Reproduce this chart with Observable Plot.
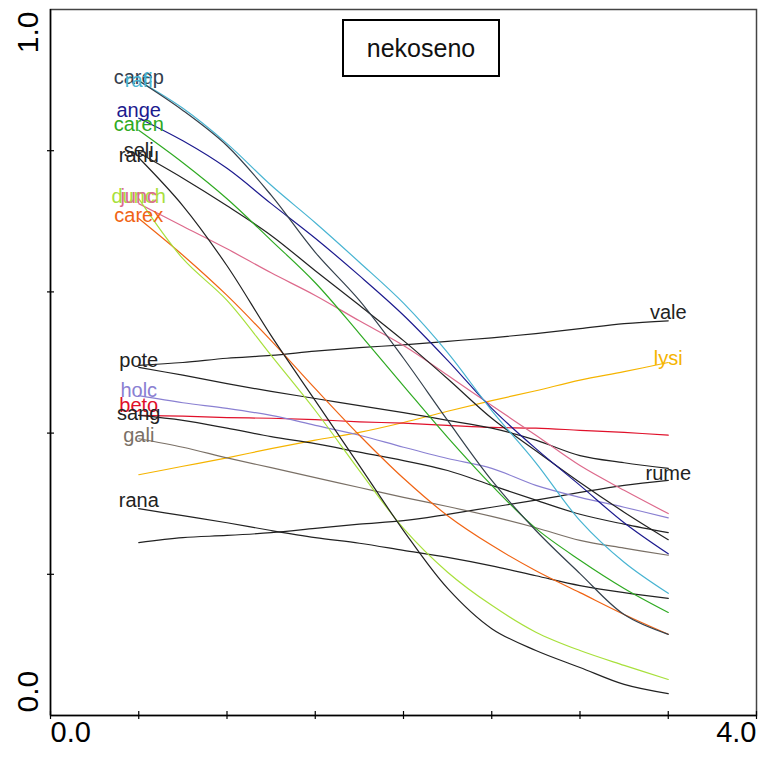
<!DOCTYPE html>
<html><head><meta charset="utf-8">
<script src="https://cdn.jsdelivr.net/npm/d3@7"></script>
<script src="https://cdn.jsdelivr.net/npm/@observablehq/plot@0.6"></script>
<style>
html,body{margin:0;padding:0;background:#fff;}
#wrap{position:relative;width:760px;height:758px;}
#title{position:absolute;left:342px;top:19px;width:154px;height:54px;border:2px solid #000;display:flex;align-items:center;justify-content:center;font:25px "Liberation Sans",Arial,sans-serif;color:#111;}
</style></head><body>
<div id="wrap"><div id="title">nekoseno</div></div>
<script>
// x positions of the response curves
const xs = [0.5, 0.75, 1.0, 1.25, 1.5, 1.75, 2.0, 2.25, 2.5, 2.75, 3.0, 3.25, 3.5];
// series values
const carep = [0.899,0.857,0.807,0.737,0.656,0.588,0.506,0.418,0.333,0.262,0.201,0.143,0.115];
const rafi  = [0.899,0.860,0.810,0.751,0.698,0.642,0.584,0.514,0.432,0.358,0.276,0.217,0.173];
const ange  = [0.846,0.814,0.775,0.725,0.676,0.623,0.567,0.503,0.435,0.378,0.326,0.273,0.229];
const caren = [0.829,0.783,0.732,0.673,0.613,0.541,0.467,0.394,0.326,0.265,0.220,0.180,0.146];
const seli  = [0.797,0.761,0.722,0.680,0.630,0.581,0.531,0.477,0.421,0.375,0.330,0.288,0.249];
const ranu  = [0.790,0.722,0.637,0.538,0.446,0.354,0.262,0.180,0.123,0.092,0.068,0.044,0.031];
const dunch = [0.732,0.647,0.588,0.510,0.432,0.347,0.265,0.203,0.156,0.118,0.092,0.071,0.051];
const junc  = [0.725,0.693,0.661,0.627,0.595,0.559,0.524,0.482,0.439,0.397,0.354,0.319,0.286];
const carex = [0.704,0.652,0.595,0.531,0.463,0.397,0.336,0.283,0.241,0.205,0.174,0.143,0.115];
const pote  = [0.493,0.482,0.470,0.459,0.449,0.439,0.429,0.418,0.407,0.390,0.368,0.358,0.350];
const holc  = [0.453,0.443,0.435,0.425,0.411,0.397,0.380,0.364,0.350,0.326,0.309,0.295,0.280];
const beto  = [0.425,0.424,0.422,0.421,0.419,0.416,0.414,0.411,0.408,0.407,0.404,0.401,0.397];
const sang  = [0.425,0.418,0.407,0.395,0.385,0.373,0.361,0.347,0.326,0.305,0.285,0.271,0.259];
const gali  = [0.392,0.380,0.365,0.351,0.337,0.323,0.309,0.296,0.282,0.266,0.248,0.237,0.227];
const rana  = [0.293,0.283,0.273,0.262,0.252,0.244,0.234,0.224,0.212,0.198,0.184,0.174,0.166];
const rume  = [0.245,0.252,0.255,0.259,0.265,0.271,0.276,0.285,0.295,0.305,0.316,0.326,0.333];
const lysi  = [0.341,0.353,0.365,0.378,0.390,0.401,0.415,0.431,0.446,0.460,0.475,0.487,0.500];
const vale  = [0.496,0.500,0.506,0.510,0.516,0.521,0.525,0.530,0.535,0.541,0.548,0.555,0.559];
// axis ticks and labels
const xTicks = [0, 0.5, 1, 1.5, 2, 2.5, 3, 3.5, 4];
const yTicks = [0.2, 0.4, 0.6, 0.8];
const xEndLabels = [{v: 0, t: "0.0"}, {v: 4, t: "4.0"}];
const yEndLabels = [{v: 1, t: "1.0"}, {v: 0, t: "0.0"}];

const series = [
  {name: "vale",  values: vale,  color: "#222222", side: "right", dy: -8},
  {name: "lysi",  values: lysi,  color: "#f5b400", side: "right", dy: -4},
  {name: "rume",  values: rume,  color: "#222222", side: "right", dy: -7},
  {name: "rana",  values: rana,  color: "#222222", side: "left",  dy: -8},
  {name: "gali",  values: gali,  color: "#7a7066", side: "left",  dy: -3},
  {name: "beto",  values: beto,  color: "#e0102a", side: "left",  dy: -10},
  {name: "sang",  values: sang,  color: "#222222", side: "left",  dy: -2},
  {name: "holc",  values: holc,  color: "#8a80d2", side: "left",  dy: -5},
  {name: "pote",  values: pote,  color: "#222222", side: "left",  dy: -7},
  {name: "junc",  values: junc,  color: "#dd6a8c", side: "left",  dy: -7},
  {name: "carex", values: carex, color: "#f06414", side: "left",  dy: -3},
  {name: "dunch", values: dunch, color: "#a8e03c", side: "left",  dy: -2},
  {name: "ranu",  values: ranu,  color: "#222222", side: "left",  dy: -2},
  {name: "seli",  values: seli,  color: "#222222", side: "left",  dy: -2},
  {name: "caren", values: caren, color: "#2faa22", side: "left",  dy: -6},
  {name: "ange",  values: ange,  color: "#1c1a8e", side: "left",  dy: -8},
  {name: "rafi",  values: rafi,  color: "#48b4d2", side: "left",  dy: 0},
  {name: "carep", values: carep, color: "#34404c", side: "left",  dy: -3}
];
const labelOrder = ["carep","rafi","ange","caren","seli","ranu","dunch","junc","carex","pote","holc","beto","sang","gali","rana","vale","lysi","rume"];

const rows = series.flatMap(s => s.values.map((v, i) => ({name: s.name, x: xs[i], y: v, color: s.color})));
const labelMarks = labelOrder.map(n => series.find(s => s.name === n)).map(s => {
  const i = s.side === "left" ? 0 : xs.length - 1;
  return Plot.text([{name: s.name, x: xs[i], y: s.values[i], color: s.color}],
    {x: "x", y: "y", text: "name", fill: "color", dy: s.dy, fontSize: 20});
});

const chart = Plot.plot({
  width: 760, height: 758,
  marginLeft: 50, marginRight: 4, marginTop: 9, marginBottom: 43,
  x: {domain: [0, 4], axis: null},
  y: {domain: [0, 1], axis: null},
  color: {type: "identity"},
  style: {fontFamily: "'Liberation Sans', Arial, sans-serif", background: "#fff"},
  marks: [
    Plot.frame({stroke: "#444", strokeWidth: 1.5}),
    Plot.ruleX([0], {stroke: "#000", strokeWidth: 1.5}),
    Plot.ruleY([0], {stroke: "#000", strokeWidth: 1.5}),
    Plot.ruleX(xTicks, {x: d => d, y1: 0, y2: 0, insetTop: -4, insetBottom: -4, stroke: "#000", strokeWidth: 1.2}),
    Plot.ruleY(yTicks, {y: d => d, x1: 0, x2: 0, insetLeft: -3, insetRight: -4, stroke: "#000", strokeWidth: 1.2}),
    Plot.line(rows, {x: "x", y: "y", z: "name", stroke: "color", strokeWidth: 1.2, curve: "catmull-rom"}),
    ...labelMarks,
    Plot.text([xEndLabels[0]], {x: "v", text: "t", frameAnchor: "bottom", dy: 26, textAnchor: "start", fontSize: 29, fill: "#000"}),
    Plot.text([xEndLabels[1]], {x: "v", text: "t", frameAnchor: "bottom", dy: 26, textAnchor: "end", fontSize: 29, fill: "#000"}),
    Plot.text([yEndLabels[0]], {y: "v", text: "t", frameAnchor: "left", dx: -22, dy: 2, rotate: -90, textAnchor: "end", fontSize: 30, fill: "#000"}),
    Plot.text([yEndLabels[1]], {y: "v", text: "t", frameAnchor: "left", dx: -22, dy: -3, rotate: -90, textAnchor: "start", fontSize: 30, fill: "#000"})
  ]
});
document.getElementById("wrap").prepend(chart);
chart.style.display = "block";
</script>
</body></html>
